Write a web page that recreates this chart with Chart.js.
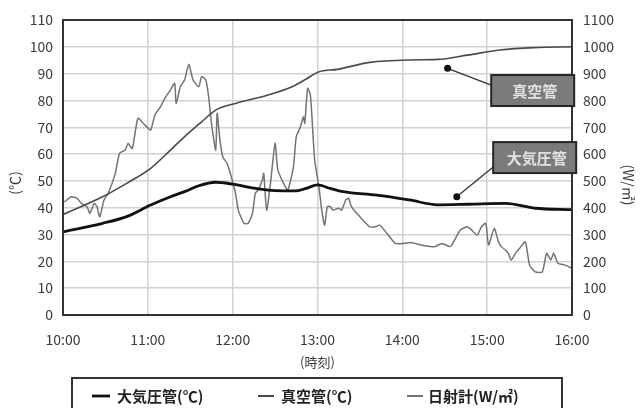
<!DOCTYPE html>
<html>
<head>
<meta charset="utf-8">
<script src="https://cdn.jsdelivr.net/npm/chart.js@4.4.1/dist/chart.umd.min.js"></script>
<style>
  html, body { margin: 0; padding: 0; background: #ffffff; }
  #wrap { width: 640px; height: 408px; position: relative; }
</style>
</head>
<body>
<div id="wrap"><canvas id="chart" width="640" height="408"></canvas></div>
<script>
// Hour tick labels along the time axis (index = hours after 10:00)
const hourLabels = ['10:00', '11:00', '12:00', '13:00', '14:00', '15:00', '16:00'];

// Series names
const pressureName = '大気圧管(℃)';
const vacuumName = '真空管(℃)';
const solarName = '日射計(W/㎡)';

// Atmospheric-pressure tube temperature (℃), minutes after 10:00
const pressureMinutes = [0, 28, 45, 62, 76, 86, 96, 108, 120, 135, 150, 165, 172, 180, 189, 198, 222, 245, 265, 287, 313, 334, 360];
const pressureTemps   = [31, 34.2, 36.7, 41, 44.1, 46, 48.2, 49.5, 48.8, 47.3, 46.4, 46.3, 47.2, 48.5, 47.2, 46, 44.7, 42.9, 41.1, 41.3, 41.6, 39.8, 39.3];

// Vacuum tube temperature (℃), minutes after 10:00
const vacuumMinutes = [0, 28, 45, 62, 76, 86, 98, 108, 122, 145, 162, 172, 181, 194, 217, 245, 265, 286, 309, 333, 360];
const vacuumTemps   = [37.5, 44.1, 49.1, 54.7, 61.5, 66.5, 72, 76.4, 78.9, 82, 85.1, 88, 90.7, 91.6, 94.2, 95.1, 95.3, 96.9, 98.8, 99.7, 100];

// Pyranometer irradiance (W/㎡), minutes after 10:00
const solarMinutes = [1, 6, 10, 13, 17, 19, 22, 24, 26, 29, 32, 37, 40, 44, 46, 49, 53, 58, 62, 65, 69, 72, 76, 79, 80, 83, 86, 89, 92, 96, 98, 101, 103, 105, 108, 109, 111, 113, 116, 119, 122, 124, 128, 131, 134, 136, 138, 141, 142, 144, 147, 150, 152, 156, 159, 163, 165, 168, 170, 171, 173, 175, 178, 181, 183, 185, 187, 189, 191, 195, 197, 200, 202, 204, 210, 217, 221, 224, 229, 235, 241, 246, 253, 260, 263, 268, 274, 277, 281, 286, 289, 293, 296, 299, 301, 305, 308, 310, 313, 315, 317, 320, 323, 327, 330, 334, 339, 342, 345, 347, 350, 355, 360];
const solarValues  = [422, 441, 435, 416, 404, 379, 416, 404, 366, 429, 454, 528, 603, 615, 640, 621, 733, 708, 690, 746, 777, 808, 839, 864, 789, 851, 876, 935, 876, 851, 888, 876, 814, 715, 615, 752, 652, 590, 566, 516, 454, 391, 342, 342, 379, 454, 466, 503, 528, 391, 503, 640, 540, 491, 466, 553, 665, 702, 739, 715, 845, 820, 578, 478, 391, 335, 404, 404, 391, 398, 391, 429, 435, 404, 366, 329, 329, 335, 305, 267, 267, 270, 261, 255, 255, 267, 255, 280, 317, 329, 317, 298, 329, 342, 261, 323, 273, 255, 242, 230, 205, 230, 249, 273, 186, 161, 161, 230, 205, 230, 193, 186, 174];

// Axis tick settings
const tempMax = 110, tempStep = 10;
const solarMax = 1100, solarStep = 100;

const FONT = "'Noto Sans CJK JP', 'Noto Sans', sans-serif";
const TEXT = '#3a3a3a';

const toPoints = (xs, ys) => xs.map((x, i) => ({ x, y: ys[i] }));

// Plot frame drawn as a closed box around the chart area
const framePlugin = {
  id: 'frame',
  afterDatasetsDraw(chart) {
    const { ctx, chartArea: a } = chart;
    ctx.save();
    ctx.strokeStyle = '#333333';
    ctx.lineWidth = 2;
    ctx.strokeRect(a.left, a.top, a.right - a.left, a.bottom - a.top);
    ctx.restore();
  }
};

// Rotated titles for the two vertical axes
const axisTitlePlugin = {
  id: 'axisTitles',
  afterDraw(chart, args, opts) {
    const { ctx } = chart;
    ctx.save();
    ctx.fillStyle = TEXT;
    ctx.font = `14px ${FONT}`;
    ctx.textAlign = 'center';
    ctx.textBaseline = 'middle';
    for (const t of opts.items) {
      ctx.save();
      ctx.translate(t.x, t.y);
      ctx.rotate(t.rotation);
      ctx.fillText(t.text, 0, 0);
      ctx.restore();
    }
    ctx.restore();
  }
};

// Callout boxes naming the two tube curves, with leader lines to a dot
const calloutPlugin = {
  id: 'callouts',
  afterDraw(chart, args, opts) {
    const { ctx, scales } = chart;
    ctx.save();
    for (const c of opts.items) {
      const ax = scales.x.getPixelForValue(c.anchor[0]);
      const ay = scales.y.getPixelForValue(c.anchor[1]);
      const bx = scales.x.getPixelForValue(c.box[0]);
      const by = scales.y.getPixelForValue(c.box[1]);
      const left = bx - c.w / 2, top = by - c.h / 2;
      // leader line
      ctx.strokeStyle = '#333333';
      ctx.lineWidth = 1.3;
      ctx.beginPath();
      ctx.moveTo(left, by + c.tailDy);
      ctx.lineTo(ax, ay);
      ctx.stroke();
      ctx.fillStyle = '#111111';
      ctx.beginPath();
      ctx.arc(ax, ay, 3.5, 0, Math.PI * 2);
      ctx.fill();
      // box
      ctx.fillStyle = '#7b7b7b';
      ctx.fillRect(left, top, c.w, c.h);
      ctx.strokeStyle = '#262626';
      ctx.lineWidth = 2;
      ctx.strokeRect(left, top, c.w, c.h);
      ctx.fillStyle = '#e4e4e4';
      ctx.font = `bold 15px ${FONT}`;
      ctx.textAlign = 'center';
      ctx.textBaseline = 'middle';
      ctx.fillText(c.text, bx + 2, by + 1);
    }
    ctx.restore();
  }
};

// Boxed legend row under the time axis
const boxLegendPlugin = {
  id: 'boxLegend',
  afterDraw(chart, args, opts) {
    const { ctx } = chart;
    const ds = chart.data.datasets;
    ctx.save();
    ctx.strokeStyle = '#333333';
    ctx.lineWidth = 2;
    ctx.strokeRect(opts.left, opts.top, opts.right - opts.left, 60);
    ctx.font = `bold 15px ${FONT}`;
    ctx.textBaseline = 'middle';
    ctx.textAlign = 'left';
    opts.items.forEach((it, i) => {
      const d = ds[i];
      ctx.strokeStyle = d.borderColor;
      ctx.lineWidth = Math.max(2, d.borderWidth);
      ctx.beginPath();
      ctx.moveTo(it.lineStart, opts.rowY);
      ctx.lineTo(it.lineStart + it.lineLen, opts.rowY);
      ctx.stroke();
      ctx.fillStyle = '#222222';
      ctx.fillText(d.label, it.textStart, opts.rowY);
    });
    ctx.restore();
  }
};

new Chart(document.getElementById('chart'), {
  type: 'line',
  data: {
    datasets: [
      {
        label: pressureName,
        data: toPoints(pressureMinutes, pressureTemps),
        yAxisID: 'y',
        borderColor: '#111111',
        borderWidth: 2.8,
        pointRadius: 0,
        cubicInterpolationMode: 'monotone'
      },
      {
        label: vacuumName,
        data: toPoints(vacuumMinutes, vacuumTemps),
        yAxisID: 'y',
        borderColor: '#4a4a4a',
        borderWidth: 1.6,
        pointRadius: 0,
        cubicInterpolationMode: 'monotone'
      },
      {
        label: solarName,
        data: toPoints(solarMinutes, solarValues),
        yAxisID: 'y1',
        borderColor: '#737373',
        borderWidth: 1.5,
        pointRadius: 0,
        tension: 0.2
      }
    ]
  },
  options: {
    responsive: false,
    animation: false,
    layout: { padding: { top: 20, left: 0, right: 0, bottom: 0 } },
    plugins: {
      legend: { display: false },
      tooltip: { enabled: false },
      axisTitles: {
        items: [
          { text: '(℃)', x: 15, y: 183, rotation: -Math.PI / 2 },
          { text: '(W/㎡)', x: 628, y: 185, rotation: Math.PI / 2 }
        ]
      },
      callouts: {
        items: [
          { text: '真空管', anchor: [272, 92], box: [332.2, 83.7], w: 83, h: 31, tailDy: -5.5 },
          { text: '大気圧管', anchor: [278.5, 44.1], box: [333.6, 58.7], w: 83, h: 31, tailDy: 9.5 }
        ]
      },
      boxLegend: {
        left: 72, right: 562, top: 378, rowY: 396,
        items: [
          { lineStart: 92, lineLen: 18, textStart: 117 },
          { lineStart: 258, lineLen: 16, textStart: 281 },
          { lineStart: 407, lineLen: 16, textStart: 428 }
        ]
      }
    },
    scales: {
      x: {
        type: 'linear',
        min: 0,
        max: 360,
        afterFit(scale) { scale.height = 93; },
        afterBuildTicks(scale) {
          scale.ticks = hourLabels.map((_, i) => ({ value: i * 60 }));
        },
        ticks: {
          autoSkip: false,
          maxRotation: 0,
          padding: 16,
          color: TEXT,
          font: { family: FONT, size: 14 },
          callback: (v) => hourLabels[Math.round(v / 60)]
        },
        grid: { color: '#d2d2d2', lineWidth: 1.5, drawTicks: false },
        border: { display: false },
        title: {
          display: true,
          text: '(時刻)',
          color: TEXT,
          font: { family: FONT, size: 13 },
          padding: { top: 0, bottom: 38 }
        }
      },
      y: {
        position: 'left',
        min: 0,
        max: tempMax,
        afterFit(scale) { scale.width = 63; },
        ticks: {
          stepSize: tempStep,
          padding: 10,
          color: TEXT,
          font: { family: FONT, size: 14 },
          callback: (v) => String(v)
        },
        grid: { color: '#d2d2d2', lineWidth: 1.5, drawTicks: false },
        border: { display: false }
      },
      y1: {
        position: 'right',
        min: 0,
        max: solarMax,
        afterFit(scale) { scale.width = 68; },
        ticks: {
          stepSize: solarStep,
          padding: 11,
          color: TEXT,
          font: { family: FONT, size: 14 },
          callback: (v) => String(v)
        },
        grid: { display: false, drawTicks: false },
        border: { display: false }
      }
    }
  },
  plugins: [framePlugin, axisTitlePlugin, calloutPlugin, boxLegendPlugin]
});
</script>
</body>
</html>
